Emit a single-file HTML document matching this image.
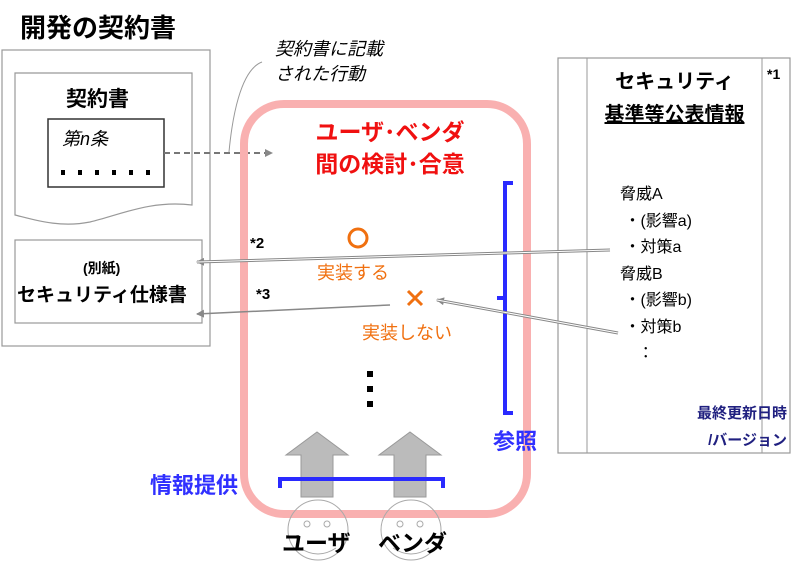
<!DOCTYPE html>
<html><head><meta charset="utf-8"><style>
body{margin:0;width:800px;height:573px;background:#fff;overflow:hidden;font-family:"Liberation Sans","Noto Sans CJK JP",sans-serif}
.t{position:absolute;white-space:nowrap}
</style></head><body>
<svg width="800" height="573" style="position:absolute;left:0;top:0">
<defs><marker id="ah" markerWidth="8" markerHeight="8" refX="7" refY="4" orient="auto" markerUnits="userSpaceOnUse"><path d="M0,0 L8,4 L0,8 z" fill="#888"/></marker></defs>
<rect x="2" y="50" width="208" height="296" fill="none" stroke="#999" stroke-width="1.2"/>
<path d="M15,73 H192 V205 C150,200 120,215 90,222 C60,228 35,220 15,215 Z" fill="none" stroke="#999" stroke-width="1.2"/>
<rect x="48" y="119" width="116" height="68" fill="none" stroke="#333" stroke-width="1.5"/>
<rect x="15" y="240" width="187" height="83" fill="none" stroke="#999" stroke-width="1.2"/>
<line x1="164" y1="153" x2="272" y2="153" stroke="#777" stroke-width="2" stroke-dasharray="6,4" marker-end="url(#ah)"/>
<path d="M262,62 C240,70 232,120 229,152" fill="none" stroke="#999" stroke-width="1"/>
<rect x="244" y="104" width="283" height="410" rx="40" fill="none" stroke="#f9b0b0" stroke-width="8"/>
<rect x="558" y="58" width="232" height="395" fill="none" stroke="#999" stroke-width="1.2"/>
<line x1="587" y1="58" x2="587" y2="453" stroke="#999"/>
<line x1="762" y1="58" x2="762" y2="453" stroke="#999"/>
<path d="M513,183 H505 V413 H513 M505,298 H497" fill="none" stroke="#2a2aff" stroke-width="4"/>
<line x1="610" y1="250" x2="197" y2="262" stroke="#888" stroke-width="3" marker-end="url(#ah)"/>
<line x1="610" y1="250" x2="197" y2="262" stroke="#fff" stroke-width="1"/>
<line x1="618" y1="333" x2="437" y2="300" stroke="#888" stroke-width="3" marker-end="url(#ah)"/>
<line x1="618" y1="333" x2="437" y2="300" stroke="#fff" stroke-width="1"/>
<line x1="390" y1="305" x2="197" y2="314" stroke="#888" stroke-width="1.5" marker-end="url(#ah)"/>
<circle cx="358" cy="238" r="9" fill="none" stroke="#f07010" stroke-width="3"/>
<path d="M408,291 L422,305 M422,291 L408,305" stroke="#f07010" stroke-width="3"/>
<rect x="367" y="371" width="6" height="6" fill="#000"/><rect x="367" y="386" width="6" height="6" fill="#000"/><rect x="367" y="401" width="6" height="6" fill="#000"/>
<g fill="#000"><rect x="61" y="170" width="4" height="5"/><rect x="78" y="170" width="4" height="5"/><rect x="95" y="170" width="4" height="5"/><rect x="112" y="170" width="4" height="5"/><rect x="129" y="170" width="4" height="5"/><rect x="146" y="170" width="4" height="5"/></g>
<path d="M301,497 V455 H286 L317,432 L348,455 H333 V497 Z" fill="#bbb" stroke="#999"/>
<path d="M394,497 V455 H379 L410,432 L441,455 H426 V497 Z" fill="#bbb" stroke="#999"/>
<path d="M280,488 V479 H443 V488" fill="none" stroke="#2a2aff" stroke-width="4"/>
<circle cx="318" cy="530" r="30" fill="none" stroke="#aaa"/>
<circle cx="411" cy="530" r="30" fill="none" stroke="#aaa"/>
<circle cx="307" cy="524" r="3" fill="none" stroke="#aaa"/><circle cx="327" cy="524" r="3" fill="none" stroke="#aaa"/>
<circle cx="400" cy="524" r="3" fill="none" stroke="#aaa"/><circle cx="420" cy="524" r="3" fill="none" stroke="#aaa"/>
<path d="M300,548 Q318,560 336,548 M393,548 Q411,560 429,548" fill="none" stroke="#aaa"/>
</svg>
<div class="t" style="left:20px;top:8px;font-size:26px;font-weight:bold">開発の契約書</div>
<div class="t" style="left:66px;top:83px;font-size:21px;font-weight:bold">契約書</div>
<div class="t" style="left:62px;top:125px;font-size:18px;font-style:italic">第<i>n</i>条</div>
<div class="t" style="left:275px;top:37px;font-size:18px;font-style:italic;line-height:25px">契約書に記載<br>された行動</div>
<div class="t" style="left:290px;top:116px;font-size:23px;font-weight:bold;color:#f01010;line-height:32px;text-align:center;width:200px">ユーザ･ベンダ<br>間の検討･合意</div>
<div class="t" style="left:250px;top:235px;font-size:15px;font-weight:bold">*2</div>
<div class="t" style="left:256px;top:286px;font-size:15px;font-weight:bold">*3</div>
<div class="t" style="left:83px;top:258px;font-size:14px;font-weight:bold">(別紙)</div>
<div class="t" style="left:17px;top:280px;font-size:19px;font-weight:bold">セキュリティ仕様書</div>
<div class="t" style="left:317px;top:259px;font-size:18px;color:#f07010">実装する</div>
<div class="t" style="left:362px;top:319px;font-size:18px;color:#f07010">実装しない</div>
<div class="t" style="left:493px;top:424px;font-size:22px;font-weight:bold;color:#3030ff">参照</div>
<div class="t" style="left:150px;top:468px;font-size:22px;font-weight:bold;color:#3030ff">情報提供</div>
<div class="t" style="left:282px;top:524px;font-size:23px;font-weight:bold">ユーザ</div>
<div class="t" style="left:378px;top:524px;font-size:23px;font-weight:bold">ベンダ</div>
<div class="t" style="left:587px;top:66px;width:175px;text-align:center;font-size:20px;font-weight:bold;line-height:33px">セキュリティ<br><u>基準等公表情報</u></div>
<div class="t" style="left:767px;top:66px;font-size:14px;font-weight:bold">*1</div>
<div class="t" style="left:620px;top:182px;font-size:16px;line-height:26.5px">脅威A<br>&nbsp;・(影響a)<br>&nbsp;・対策a<br>脅威B<br>&nbsp;・(影響b)<br>&nbsp;・対策b<br>&nbsp;&nbsp;&nbsp;&nbsp;：</div>
<div class="t" style="left:640px;top:400px;width:147px;text-align:right;font-size:15px;font-weight:bold;color:#202080;line-height:27px">最終更新日時<br>/バージョン</div>
</body></html>
